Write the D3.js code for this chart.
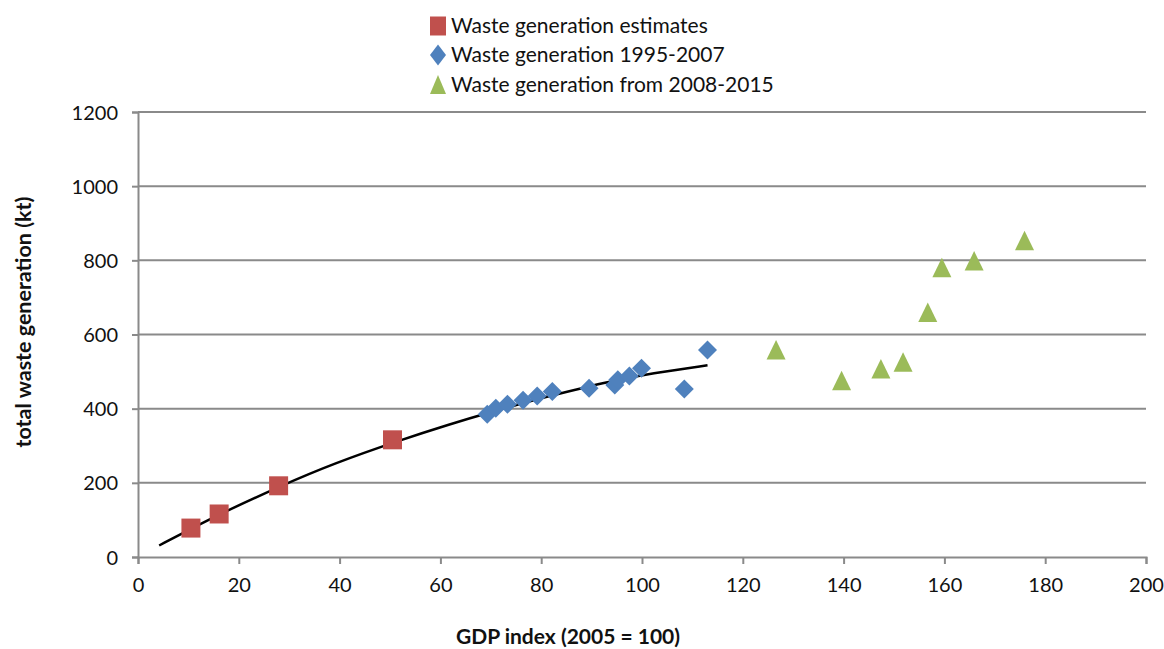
<!DOCTYPE html>
<html><head><meta charset="utf-8">
<script src="https://cdn.jsdelivr.net/npm/d3@7/dist/d3.min.js"></script>
<style>
body{margin:0;background:#fff;}
svg{display:block;font-family:Lato,"Open Sans",sans-serif;}
</style></head>
<body><svg id="c" width="1164" height="649"></svg>
<script>
// Data
const estimatesX = [10.5, 16.1, 27.9, 50.5];
const estimatesY = [78, 116, 192, 316];
const period1X = [69.3, 71.0, 73.3, 76.4, 79.2, 82.2, 89.5, 94.6, 95.2, 97.5, 99.9, 108.4, 113.0];
const period1Y = [385, 401, 412, 423, 434, 446, 455, 464, 478, 488, 509, 453, 558];
const period2X = [126.6, 139.6, 147.4, 151.8, 156.7, 159.5, 165.9, 175.9];
const period2Y = [558, 475, 507, 525, 659, 780, 798, 853];
const trendX = [4.2, 10.5, 16.1, 28.2, 38.8, 52.0, 61.9, 69.3, 81.7, 89.5, 95.0, 101.6, 113.0];
const trendY = [31, 76, 115, 191, 252, 315, 358, 388, 435, 460, 477, 495, 517];
const xTicks = [0, 20, 40, 60, 80, 100, 120, 140, 160, 180, 200];
const yTicks = [0, 200, 400, 600, 800, 1000, 1200];
const legendLabels = ["Waste generation estimates", "Waste generation 1995-2007", "Waste generation from 2008-2015"];
const colors = ["#c0504d", "#4f81bd", "#9bbb59"];

const svg = d3.select("#c");
const L = 138, R = 1146, T = 112, B = 557;
const x = d3.scaleLinear().domain([0, 200]).range([L, R]);
const y = d3.scaleLinear().domain([0, 1200]).range([B, T]);
const grid = "#8a8a8a";

// gridlines
svg.append("g").selectAll("line").data(yTicks.filter(d => d > 0)).join("line")
  .attr("x1", L).attr("x2", R).attr("y1", d => y(d)).attr("y2", d => y(d))
  .attr("stroke", grid).attr("stroke-width", 2);

// axes
const xAxis = svg.append("g").attr("transform", `translate(0,${B})`)
  .call(d3.axisBottom(x).tickValues(xTicks).tickSize(7).tickPadding(14).tickFormat(d3.format("d")));
const yAxis = svg.append("g").attr("transform", `translate(${L},0)`)
  .call(d3.axisLeft(y).tickValues(yTicks).tickSize(6).tickPadding(14).tickFormat(d3.format("d")));
[xAxis, yAxis].forEach(a => {
  a.select(".domain").attr("stroke", grid).attr("stroke-width", 2);
  a.selectAll(".tick line").attr("stroke", grid).attr("stroke-width", 2);
  a.selectAll(".tick text").attr("fill", "#111").style("font-size", "20px").style("font-family", "Lato,'Open Sans',sans-serif");
});
yAxis.selectAll(".tick text").attr("dy", "0.35em");

// trend line
const trend = trendX.map((d, i) => [d, trendY[i]]);
svg.append("path").datum(trend)
  .attr("d", d3.line().x(d => x(d[0])).y(d => y(d[1])).curve(d3.curveBasis))
  .attr("fill", "none").attr("stroke", "#000").attr("stroke-width", 2.5);

// markers
const sq = 19, dia = 9.5;
const squarePath = (cx, cy) => `M${cx - sq/2},${cy - sq/2}h${sq}v${sq}h${-sq}Z`;
const diamondPath = (cx, cy) => `M${cx},${cy - dia}L${cx + dia},${cy}L${cx},${cy + dia}L${cx - dia},${cy}Z`;
const triPath = (cx, cy) => `M${cx},${cy - 10}L${cx + 9.5},${cy + 9.5}L${cx - 9.5},${cy + 9.5}Z`;

svg.append("g").selectAll("path").data(estimatesX.map((d, i) => [d, estimatesY[i]])).join("path")
  .attr("d", d => squarePath(x(d[0]), y(d[1]))).attr("fill", colors[0]);
svg.append("g").selectAll("path").data(period1X.map((d, i) => [d, period1Y[i]])).join("path")
  .attr("d", d => diamondPath(x(d[0]), y(d[1]))).attr("fill", colors[1]);
svg.append("g").selectAll("path").data(period2X.map((d, i) => [d, period2Y[i]])).join("path")
  .attr("d", d => triPath(x(d[0]), y(d[1]))).attr("fill", colors[2]);

// legend
const lg = svg.append("g");
const rowY = [26, 55, 85];
const lx = 438;
legendLabels.forEach((t, i) => {
  let p;
  if (i === 0) p = `M${lx - 8},${rowY[i] - 9.5}h16v19h-16Z`;
  else if (i === 1) p = `M${lx},${rowY[i] - 10.5}L${lx + 8},${rowY[i]}L${lx},${rowY[i] + 10.5}L${lx - 8},${rowY[i]}Z`;
  else p = `M${lx},${rowY[i] - 10}L${lx + 8},${rowY[i] + 9}L${lx - 8},${rowY[i] + 9}Z`;
  lg.append("path").attr("d", p).attr("fill", colors[i]);
  lg.append("text").attr("x", 451).attr("y", rowY[i]).attr("dy", "0.35em")
    .style("font-size", "21px").attr("fill", "#111").text(t);
});

// axis titles
svg.append("text").attr("x", 568).attr("y", 637).attr("dy", "0.35em").attr("text-anchor", "middle")
  .style("font-size", "21px").style("font-weight", "bold").attr("fill", "#111").text("GDP index (2005 = 100)");
svg.append("text").attr("transform", "translate(23,322) rotate(-90)").attr("dy", "0.35em").attr("text-anchor", "middle")
  .style("font-size", "21.5px").style("font-weight", "bold").attr("fill", "#111").text("total waste generation (kt)");
</script></body></html>
